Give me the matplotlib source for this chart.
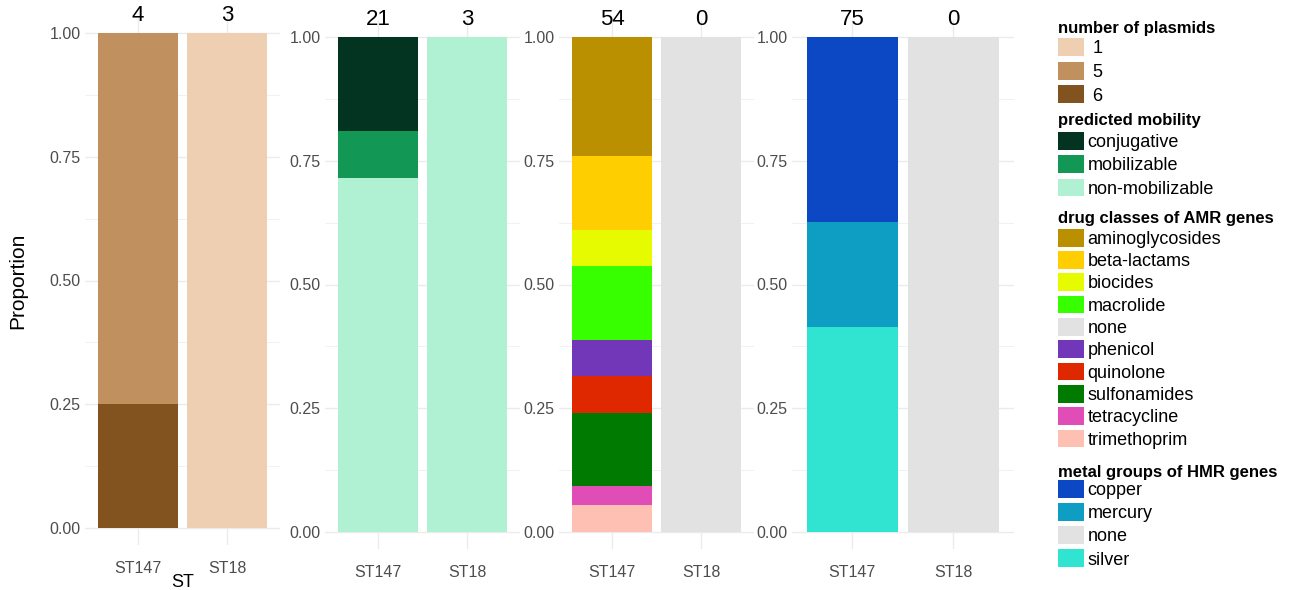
import matplotlib
matplotlib.use("Agg")
import matplotlib.pyplot as plt
from matplotlib.patches import Patch

plt.rcParams['font.family'] = ['Liberation Sans', 'DejaVu Sans']

sts = ['ST147', 'ST18']

# panel 1: number of plasmids
plasmid_levels = ['1', '5', '6']
plasmid_colors = ['#EECFB1', '#C0905F', '#82521F']
plasmid_counts = {'ST147': [0, 3, 1], 'ST18': [3, 0, 0]}
plasmid_totals = [4, 3]

# panel 2: predicted mobility
mob_levels = ['conjugative', 'mobilizable', 'non-mobilizable']
mob_colors = ['#033321', '#129755', '#B0F0D3']
mob_counts = {'ST147': [4, 2, 15], 'ST18': [0, 0, 3]}
mob_totals = [21, 3]

# panel 3: drug classes
amr_levels = ['aminoglycosides', 'beta-lactams', 'biocides', 'macrolide', 'none',
              'phenicol', 'quinolone', 'sulfonamides', 'tetracycline', 'trimethoprim']
amr_colors = ['#BA8F00', '#FFCE00', '#E6FA00', '#38FF00', '#E2E2E2',
              '#7236B8', '#E02800', '#007A00', '#E14DB6', '#FFC0B4']
amr_counts = {'ST147': [13, 8, 4, 8, 0, 4, 4, 8, 2, 3],
              'ST18': [0, 0, 0, 0, 1, 0, 0, 0, 0, 0]}
amr_totals = [54, 0]

# panel 4: metal groups
hmr_levels = ['copper', 'mercury', 'none', 'silver']
hmr_colors = ['#0D48C4', '#0E9EC4', '#E2E2E2', '#31E3D1']
hmr_counts = {'ST147': [28, 16, 0, 31], 'ST18': [0, 0, 1, 0]}
hmr_totals = [75, 0]

panels = [
    ('number of plasmids', plasmid_levels, plasmid_colors, plasmid_counts, plasmid_totals),
    ('predicted mobility', mob_levels, mob_colors, mob_counts, mob_totals),
    ('drug classes of AMR genes', amr_levels, amr_colors, amr_counts, amr_totals),
    ('metal groups of HMR genes', hmr_levels, hmr_colors, hmr_counts, hmr_totals),
]

W, H = 1291, 590
fig = plt.figure(figsize=(W / 100, H / 100), dpi=100)

# axes boxes in pixels: left, top(of y=1), bottom(of y=0), width
boxes = [(84.7, 33, 528, 195.6), (324.7, 37, 532, 195.6),
         (558.7, 37, 532, 195.6), (791.8, 37, 532, 222.0)]
ylo, yhi = -0.035, 1.035

grid_c = '#EBEBEB'
for i, (title, levels, colors, counts, totals) in enumerate(panels):
    left, ytop, ybot, width = boxes[i]
    ppu = (ybot - ytop)
    top_px = ytop - (yhi - 1) * ppu
    bot_px = ybot + (0 - ylo) * ppu
    ax = fig.add_axes([left / W, (H - bot_px) / H, width / W, (bot_px - top_px) / H])
    for s in ax.spines.values():
        s.set_visible(False)
    ax.set_xlim(0.4, 2.6)
    ax.set_ylim(ylo, yhi)
    ax.set_yticks([0, 0.25, 0.5, 0.75, 1.0])
    ax.set_yticklabels(['0.00', '0.25', '0.50', '0.75', '1.00'])
    ax.set_yticks([0.125, 0.375, 0.625, 0.875], minor=True)
    ax.set_xticks([1, 2])
    ax.set_xticklabels(sts)
    ax.tick_params(which='both', length=0, labelsize=11.5, labelcolor='#4D4D4D', pad=3)
    ax.tick_params(axis='x', pad=11)
    ax.grid(which='major', color=grid_c, lw=1.0)
    ax.grid(which='minor', axis='y', color=grid_c, lw=0.5)
    ax.set_axisbelow(True)
    for j, st in enumerate(sts):
        vals = counts[st]
        tot = sum(vals)
        bottom = 0
        # ggplot stacks the first level on top, so draw from the last one
        for lev, col, v in reversed(list(zip(levels, colors, vals))):
            if v == 0:
                continue
            ax.bar(j + 1, v / tot, width=0.9, bottom=bottom, color=col, lw=0)
            bottom += v / tot
        ax.annotate(str(totals[j]), (j + 1, 1.0), xytext=(0, 5), textcoords='offset points',
                    ha='center', va='bottom', fontsize=16, annotation_clip=False)
    if i == 0:
        ax.set_ylabel('Proportion', fontsize=15, labelpad=16)
        ax.set_xlabel('ST', fontsize=13, labelpad=-1)

# legends on the right
leg_tops = [19, 111, 209, 463]
spacings = [0.25, 0.24, 0.18, 0.23]
title_gaps = [1.8, 2.8, 2.0, 0.0]
for (title, levels, colors, counts, totals), ltop, sp, tg in zip(panels, leg_tops, spacings, title_gaps):
    handles = [Patch(facecolor=c, edgecolor='white', lw=0) for c in colors]
    labs = [(' ' + l) if l.isdigit() else l for l in levels]
    leg = fig.legend(handles, labs, title=title, loc='upper left',
                     bbox_to_anchor=(1056 / W, 1 - ltop / H), frameon=False,
                     fontsize=13, title_fontproperties={'weight': 'bold', 'size': 12},
                     handlelength=1.45, handleheight=1.15, handletextpad=0.2,
                     labelspacing=sp, borderpad=0.1, borderaxespad=0)
    leg._legend_box.align = 'left'
    leg._legend_box.sep = tg

fig.savefig('out.png', dpi=100)
